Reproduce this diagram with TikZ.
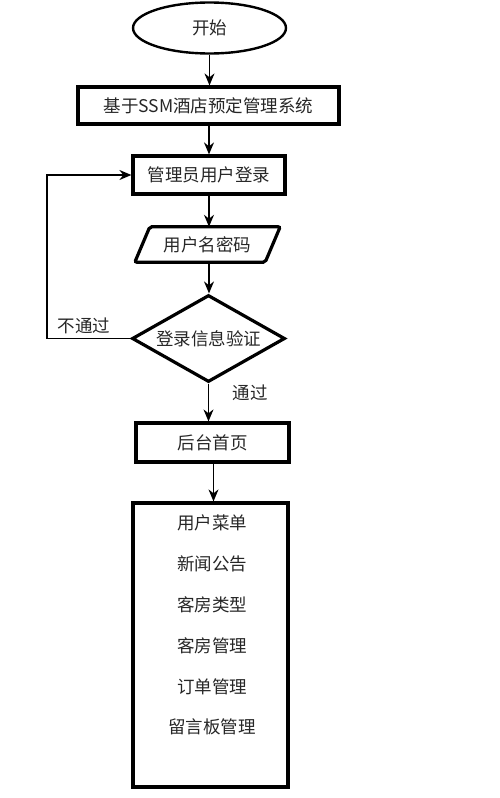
\documentclass[tikz,border=0pt]{standalone}
\usepackage{fontspec}
\setmainfont{Noto Sans CJK SC}
\usetikzlibrary{shapes.geometric,arrows.meta}
\begin{document}
\begin{tikzpicture}[x=1pt,y=-1pt,
  every node/.style={font=\fontsize{17.5}{20}\selectfont, text=black!85},
  thickbox/.style={draw, line width=3.2pt, rectangle, inner sep=0pt},
  arr/.style={line width=1.4pt, -{Stealth[length=12pt,width=10pt]}},
  lbl/.style={inner sep=0pt}]
\useasboundingbox (0,0) rectangle (500,798);
\node[draw, ellipse, line width=2.4pt, minimum width=153pt, minimum height=51pt, inner sep=0pt] (start) at (209.5,28) {开始};
\node[thickbox, minimum width=261pt, minimum height=37pt] (sys) at (208.5,105.5) {基于SSM酒店预定管理系统};
\node[thickbox, minimum width=152pt, minimum height=38pt] (login) at (209,175) {管理员用户登录};
\node[inner sep=0pt, minimum width=145pt, minimum height=35pt] (pwd) at (207.5,244.5) {用户名密码};
\draw[line width=3.2pt, rounded corners=2pt]
  ([xshift=15pt]pwd.north west) -- (pwd.north east) -- ([xshift=-15pt]pwd.south east) -- (pwd.south west) -- cycle;
\node[draw, diamond, aspect=1.76, line width=3.2pt, minimum width=153pt, minimum height=87pt, inner sep=0pt] (chk) at (208.5,338.5) {登录信息验证};
\node[thickbox, minimum width=153pt, minimum height=39pt] (home) at (212.5,442.5) {后台首页};
\node[thickbox, minimum width=155pt, minimum height=284pt] (menu) at (210.5,645) {};
\node[lbl] (m1) at (212,523) {用户菜单};
\node[lbl] (m2) at (212,564) {新闻公告};
\node[lbl] (m3) at (212,605) {客房类型};
\node[lbl] (m4) at (212,646) {客房管理};
\node[lbl] (m5) at (212,687) {订单管理};
\node[lbl] (m6) at (212,727) {留言板管理};
\node[lbl] (no) at (84,326) {不通过};
\node[lbl] (yes) at (250,393) {通过};
\coordinate (fb) at (47,338.5);
\draw[arr] (start.south) -- (start.south |- sys.north);
\draw[arr] (sys.south -| login.north) -- (login.north);
\draw[arr] (login.south) -- (login.south |- pwd.north);
\draw[arr] (login.south |- pwd.south) -- (login.south |- chk.north);
\draw[arr] (chk.south) -- (chk.south |- home.north);
\draw[arr] ([xshift=1pt]home.south) -- ([xshift=1pt]home.south |- menu.north);
\draw[arr] (chk.west) -- (fb) |- (login.west);
\end{tikzpicture}
\end{document}
